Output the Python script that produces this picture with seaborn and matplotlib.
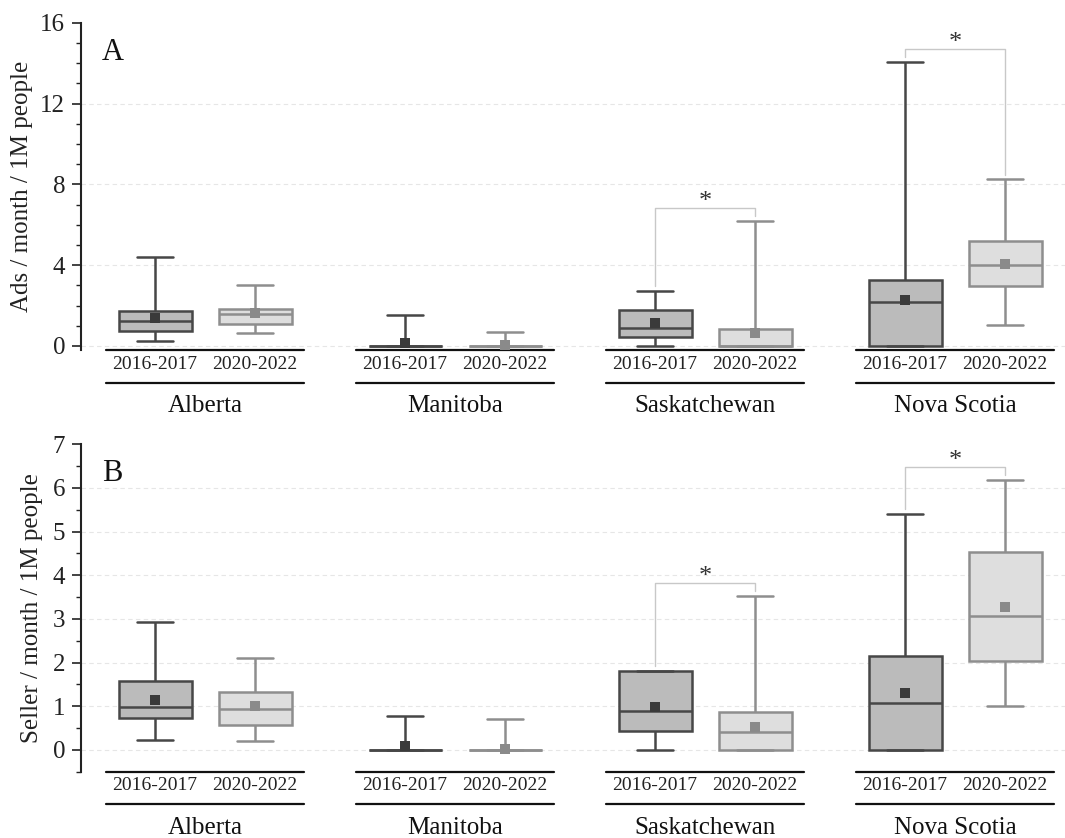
import numpy as np
import pandas as pd
import matplotlib
matplotlib.use("Agg")
import matplotlib.pyplot as plt
from matplotlib.ticker import MultipleLocator
import seaborn as sns

# ---------------- data ----------------
provinces = ["Alberta", "Manitoba", "Saskatchewan", "Nova Scotia"]
periods = ["2016-2017", "2020-2022"]

# five-number summaries per province: [min, Q1, median, Q3, max]
ads_1617 = [[0.25, 0.73, 1.22, 1.72, 4.41],
            [0.00, 0.00, 0.00, 0.00, 1.55],
            [0.00, 0.42, 0.91, 1.80, 2.72],
            [0.00, 0.00, 2.16, 3.25, 14.06]]
ads_2022 = [[0.66, 1.07, 1.60, 1.85, 3.04],
            [0.00, 0.00, 0.00, 0.00, 0.71],
            [0.00, 0.00, 0.00, 0.86, 6.17],
            [1.02, 2.97, 4.03, 5.18, 8.24]]
ads_mean_1617 = [1.36, 0.17, 1.14, 2.26]
ads_mean_2022 = [1.62, 0.03, 0.66, 4.08]

sel_1617 = [[0.23, 0.73, 0.98, 1.58, 2.94],
            [0.00, 0.00, 0.00, 0.00, 0.77],
            [0.00, 0.44, 0.90, 1.81, 1.81],
            [0.00, 0.00, 1.07, 2.15, 5.40]]
sel_2022 = [[0.21, 0.57, 0.93, 1.33, 2.10],
            [0.00, 0.00, 0.00, 0.00, 0.71],
            [0.00, 0.00, 0.41, 0.87, 3.52],
            [1.01, 2.04, 3.07, 4.54, 6.18]]
sel_mean_1617 = [1.14, 0.09, 0.99, 1.30]
sel_mean_2022 = [1.01, 0.02, 0.53, 3.27]

significant = ["Saskatchewan", "Nova Scotia"]

# ---------------- style ----------------
sns.set_style("ticks")
plt.rcParams["font.family"] = ["Liberation Serif", "DejaVu Serif"]

face = ["#bbbbbb", "#dedede"]
edge = ["#474747", "#8e8e8e"]
meanc = ["#3a3a3a", "#8a8a8a"]
GROUP_STEP = 2.5

fig = plt.figure(figsize=(10.65, 8.38), dpi=100)
W, H = 1065, 838
axA = fig.add_axes([81 / W, (H - 350) / H, 984 / W, 327.3 / H])
axB = fig.add_axes([81 / W, (H - 771.7) / H, 984 / W, 327.4 / H])

panels = [
    dict(ax=axA, stats=[ads_1617, ads_2022], means=[ads_mean_1617, ads_mean_2022],
         ylim=(-0.2, 16), yticks=[0, 4, 8, 12, 16], minor=1,
         ylabel="Ads / month / 1M people", ylx=-0.0488, letter="A"),
    dict(ax=axB, stats=[sel_1617, sel_2022], means=[sel_mean_1617, sel_mean_2022],
         ylim=(-0.5, 7), yticks=[0, 1, 2, 3, 4, 5, 6, 7], minor=0.5,
         ylabel="Seller / month / 1M people", ylx=-0.0386, letter="B"),
]

for P in panels:
    ax = P["ax"]
    for p in range(2):
        rows = []
        for g, five in enumerate(P["stats"][p]):
            for v in five:
                rows.append({"pos": GROUP_STEP * g + p, "value": v})
        df = pd.DataFrame(rows)
        sns.boxplot(data=df, x="pos", y="value", native_scale=True,
                    width=0.73 / GROUP_STEP, color=face[p], linecolor=edge[p],
                    linewidth=1.8, whis=(0, 100), saturation=1, showfliers=False,
                    ax=ax)
        mdf = pd.DataFrame({"pos": [GROUP_STEP * g + p for g in range(len(provinces))],
                            "mean": P["means"][p]})
        sns.scatterplot(data=mdf, x="pos", y="mean", marker="s", s=44,
                        color=meanc[p], linewidth=0, zorder=5, ax=ax, legend=False)

    ylo, yhi = P["ylim"]
    yr = yhi - ylo
    ax.set_xlim(-0.74, 9.10)
    ax.set_ylim(ylo, yhi)
    ax.set_yticks(P["yticks"])
    ax.yaxis.set_minor_locator(MultipleLocator(P["minor"]))
    ax.yaxis.grid(True, which="major", linestyle=(0, (4, 3)), color="#e6e6e6", lw=0.8)
    ax.set_axisbelow(True)
    for gl in ax.get_ygridlines()[-1:]:
        gl.set_visible(False)

    pos = []
    labs = []
    for g in range(len(provinces)):
        for p in range(2):
            pos.append(GROUP_STEP * g + p)
            labs.append(periods[p])
    ax.set_xticks(pos)
    ax.set_xticklabels(labs)
    ax.tick_params(axis="x", length=0, labelsize=14, pad=4, colors="#222222")
    ax.tick_params(axis="y", which="major", length=6.5, width=1.2, direction="out",
                   labelsize=18, pad=5, color="#222222", labelcolor="#222222")
    ax.tick_params(axis="y", which="minor", length=3.5, width=1.0, direction="out",
                   color="#222222")

    for s in ["top", "right", "bottom"]:
        ax.spines[s].set_visible(False)
    ax.spines["left"].set_linewidth(1.5)
    ax.spines["left"].set_color("#222222")

    ax.set_xlabel("")
    ax.set_ylabel(P["ylabel"], fontsize=18, color="#222222")
    ax.yaxis.set_label_coords(P["ylx"], 0.5)
    ax.text(0.021, 0.91, P["letter"], transform=ax.transAxes, fontsize=22,
            ha="left", va="center", color="#111111")

    trans = ax.get_xaxis_transform()
    for g, prov in enumerate(provinces):
        x0 = GROUP_STEP * g - 0.49
        x1 = GROUP_STEP * g + 1.49
        ax.plot([x0, x1], [0, 0], transform=trans, clip_on=False, color="#111111", lw=1.6)
        ax.plot([x0, x1], [-0.1, -0.1], transform=trans, clip_on=False, color="#111111", lw=1.6)
        ax.annotate(prov, xy=(GROUP_STEP * g + 0.5, 0), xycoords=trans,
                    xytext=(0, -44.5), textcoords="offset points",
                    ha="center", va="baseline", fontsize=18, color="#111111",
                    annotation_clip=False)

    for prov in significant:
        g = provinces.index(prov)
        hi1 = P["stats"][0][g][4]
        hi2 = P["stats"][1][g][4]
        xa = GROUP_STEP * g
        xb = GROUP_STEP * g + 1
        top = max(hi1, hi2) + 0.04 * yr
        ax.plot([xa, xa, xb, xb], [hi1 + 0.015 * yr, top, top, hi2 + 0.015 * yr],
                color="#c8c8c8", lw=1.0, zorder=3)
        ax.annotate("*", xy=((xa + xb) / 2, top), xytext=(0, 0),
                    textcoords="offset points", ha="center", va="baseline",
                    fontsize=19, color="#333333")

fig.savefig("out.png", dpi=100)
